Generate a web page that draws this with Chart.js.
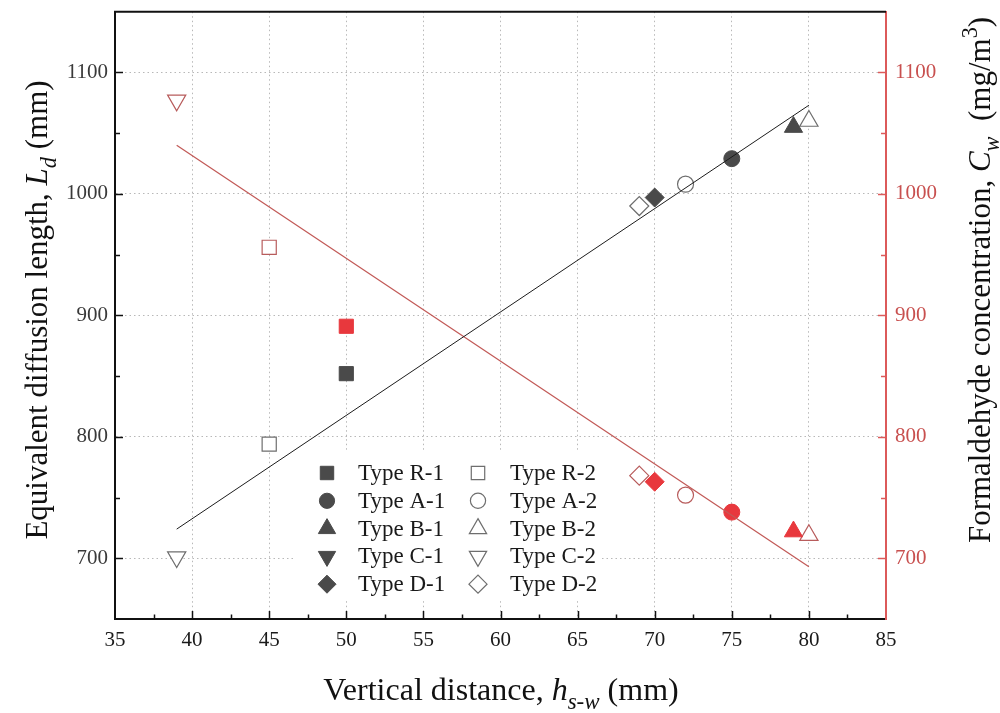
<!DOCTYPE html>
<html>
<head>
<meta charset="utf-8">
<script src="https://cdn.jsdelivr.net/npm/chart.js@4/dist/chart.umd.min.js"></script>
<style>
  html, body { margin: 0; padding: 0; background: #ffffff; }
  canvas { display: block; }
</style>
</head>
<body>
<canvas id="chart" width="1000" height="713"></canvas>
<script>
// Specimen types (filled = "-1", open = "-2")
const typeNames = ['Type R-1', 'Type R-2', 'Type A-1', 'Type A-2', 'Type B-1',
                   'Type B-2', 'Type C-1', 'Type C-2', 'Type D-1', 'Type D-2'];
// Vertical distance h_s-w (mm)
const hsw = [50, 45, 75, 72, 79, 80, null, 39, 70, 69];
// Equivalent diffusion length L_d (mm)
const Ld = [852, 794, 1029, 1008, 1055, 1060, null, 701, 997, 990];
// Formaldehyde concentration C_w (mg/m3)
const Cw = [891, 956, 738, 752, 722, 719, null, 1077, 763, 768];
// Linear fit lines
const fitH = [39, 80];
const fitLd = [724, 1073];
const fitCw = [1040, 693];
// Axis ranges / ticks
const xRange = [35, 85];
const yRange = [650, 1150];
const xMajorTicks = [35, 40, 45, 50, 55, 60, 65, 70, 75, 80, 85];
const yMajorTicks = [700, 800, 900, 1000, 1100];

const SERIF = "'Liberation Serif', 'Times New Roman', serif";
const RED_AXIS = '#dc5a5a';
const RED_TEXT = '#c8504f';
const GRID = '#b8b8b8';

// marker shape for each type letter
const shapeFor = (name) => {
  const t = name.charAt(5);
  if (t === 'R') return { style: 'rect', rotation: 0, radius: 10 };
  if (t === 'A') return { style: 'circle', rotation: 0, radius: 8 };
  if (t === 'B') return { style: 'triangle', rotation: 0, radius: 10.5 };
  if (t === 'C') return { style: 'triangle', rotation: 180, radius: 10.5 };
  return { style: 'rectRot', rotation: 0, radius: 9.5 };
};
const isOpen = (name) => name.endsWith('-2');

const datasets = [
  { label: 'fit Ld', yAxisID: 'y', showLine: true, order: 0,
    data: fitH.map((h, i) => ({ x: h, y: fitLd[i] })),
    borderColor: '#1c1c1c', borderWidth: 1, pointRadius: 0 },
  { label: 'fit Cw', yAxisID: 'y2', showLine: true, order: 0,
    data: fitH.map((h, i) => ({ x: h, y: fitCw[i] })),
    borderColor: '#c25a57', borderWidth: 1.2, pointRadius: 0 }
];

typeNames.forEach((name, i) => {
  if (hsw[i] === null) return;
  const s = shapeFor(name);
  const open = isOpen(name);
  datasets.push({
    label: name + ' (Ld)', yAxisID: 'y', order: 1,
    data: [{ x: hsw[i], y: Ld[i] }],
    pointStyle: s.style, rotation: s.rotation, pointRadius: s.radius, pointHoverRadius: s.radius,
    backgroundColor: open ? '#ffffff' : '#4a4a4a',
    borderColor: open ? '#6e6e6e' : '#4a4a4a',
    borderWidth: open ? 1.2 : 1
  });
  datasets.push({
    label: name + ' (Cw)', yAxisID: 'y2', order: 1,
    data: [{ x: hsw[i], y: Cw[i] }],
    pointStyle: s.style, rotation: s.rotation, pointRadius: s.radius, pointHoverRadius: s.radius,
    backgroundColor: open ? '#ffffff' : '#e8383d',
    borderColor: open ? '#b85c5c' : '#e8383d',
    borderWidth: open ? 1.2 : 1
  });
});

// draws a run of text pieces (plain / italic / sub / sup) centred at the origin
function drawRich(ctx, parts, size) {
  const fontOf = (p) => (p.italic ? 'italic ' : '') + ((p.sub || p.sup) ? size * 0.72 : size) + 'px ' + SERIF;
  let total = 0;
  parts.forEach(p => { ctx.font = fontOf(p); total += ctx.measureText(p.t).width; });
  let x = -total / 2;
  ctx.textBaseline = 'alphabetic';
  ctx.textAlign = 'left';
  parts.forEach(p => {
    ctx.font = fontOf(p);
    const dy = p.sub ? size * 0.28 : (p.sup ? -size * 0.42 : 0);
    ctx.fillText(p.t, x, size * 0.33 + dy);
    x += ctx.measureText(p.t).width;
  });
}

const framePlugin = {
  id: 'frame',
  beforeDatasetsDraw(chart) {
    // white legend panel hides the grid behind it
    const ctx = chart.ctx;
    ctx.save();
    ctx.fillStyle = '#ffffff';
    ctx.fillRect(296, 452, 304, 148);
    ctx.restore();
  },
  afterDraw(chart) {
    const ctx = chart.ctx;
    const area = chart.chartArea;
    const xs = chart.scales.x, ys = chart.scales.y, y2 = chart.scales.y2;
    ctx.save();

    // top frame line
    ctx.strokeStyle = '#111111';
    ctx.lineWidth = 2;
    ctx.beginPath();
    ctx.moveTo(area.left - 1, area.top);
    ctx.lineTo(area.right, area.top);
    ctx.stroke();

    // inward tick marks
    ctx.lineWidth = 1.5;
    ctx.strokeStyle = '#111111';
    for (let v = xRange[0] + 2.5; v < xRange[1]; v += 2.5) {
      const px = Math.round(xs.getPixelForValue(v)) + 0.5;
      const len = (v % 5 === 0) ? 8 : 4.5;
      ctx.beginPath();
      ctx.moveTo(px, area.bottom);
      ctx.lineTo(px, area.bottom - len);
      ctx.stroke();
    }
    for (let v = yRange[0] + 50; v < yRange[1]; v += 50) {
      const py = Math.round(ys.getPixelForValue(v)) + 0.5;
      const len = (v % 100 === 0) ? 8 : 5;
      ctx.strokeStyle = '#111111';
      ctx.beginPath();
      ctx.moveTo(area.left, py);
      ctx.lineTo(area.left + len, py);
      ctx.stroke();
      const py2 = Math.round(y2.getPixelForValue(v)) + 0.5;
      ctx.strokeStyle = RED_AXIS;
      ctx.beginPath();
      ctx.moveTo(area.right, py2);
      ctx.lineTo(area.right - len, py2);
      ctx.stroke();
    }

    // legend: two columns, five rows
    const colMarkerX = [327, 478];
    const colTextX = [358, 510];
    const rowY0 = 473, rowStep = 27.8;
    ctx.font = '23px ' + SERIF;
    ctx.textBaseline = 'middle';
    ctx.textAlign = 'left';
    typeNames.forEach((name, i) => {
      const col = i % 2, row = Math.floor(i / 2);
      const cy = rowY0 + row * rowStep;
      const s = shapeFor(name);
      const open = isOpen(name);
      ctx.save();
      ctx.fillStyle = open ? '#ffffff' : '#4a4a4a';
      ctx.strokeStyle = open ? '#6e6e6e' : '#4a4a4a';
      ctx.lineWidth = open ? 1.2 : 1;
      Chart.helpers.drawPoint(ctx, { pointStyle: s.style, rotation: s.rotation, radius: s.radius * 0.95, borderWidth: ctx.lineWidth }, colMarkerX[col], cy);
      ctx.restore();
      ctx.fillStyle = '#1a1a1a';
      ctx.fillText(name, colTextX[col], cy + 1);
    });

    // axis titles
    ctx.fillStyle = '#111111';
    ctx.save();
    ctx.translate(37, 310);
    ctx.rotate(-Math.PI / 2);
    drawRich(ctx, [
      { t: 'Equivalent diffusion length, ' },
      { t: 'L', italic: true },
      { t: 'd', italic: true, sub: true },
      { t: ' (mm)' }
    ], 31);
    ctx.restore();

    ctx.save();
    ctx.translate(980, 280);
    ctx.rotate(-Math.PI / 2);
    drawRich(ctx, [
      { t: 'Formaldehyde concentration, ' },
      { t: 'C', italic: true },
      { t: 'w', italic: true, sub: true },
      { t: '  (mg/m' },
      { t: '3', sup: true },
      { t: ')' }
    ], 31);
    ctx.restore();

    ctx.save();
    ctx.translate(501, 689);
    drawRich(ctx, [
      { t: 'Vertical distance, ' },
      { t: 'h', italic: true },
      { t: 's-w', italic: true, sub: true },
      { t: ' (mm)' }
    ], 32);
    ctx.restore();

    ctx.restore();
  }
};

const gridColorX = (c) => {
  const v = c.tick ? c.tick.value : null;
  return (v !== null && v % 5 === 0 && v > xRange[0] && v < xRange[1]) ? GRID : 'rgba(0,0,0,0)';
};
const gridColorY = (c) => {
  const v = c.tick ? c.tick.value : null;
  return (v !== null && yMajorTicks.includes(v)) ? GRID : 'rgba(0,0,0,0)';
};
const plainLabel = (v) => String(v);
const noPadding = (s) => { s.paddingTop = 0; s.paddingBottom = 0; s.paddingLeft = 0; s.paddingRight = 0; };

new Chart(document.getElementById('chart'), {
  type: 'scatter',
  data: { datasets },
  options: {
    responsive: false,
    animation: false,
    devicePixelRatio: 1,
    layout: { padding: { top: 11, left: 0, right: 0, bottom: 0 } },
    plugins: { legend: { display: false }, tooltip: { enabled: false } },
    scales: {
      x: {
        type: 'linear', position: 'bottom', min: xRange[0], max: xRange[1],
        afterBuildTicks: (s) => { s.ticks = xMajorTicks.map(v => ({ value: v })); },
        ticks: { font: { family: SERIF, size: 21 }, color: '#1a1a1a', padding: 9, maxRotation: 0, autoSkip: false, callback: plainLabel },
        grid: { drawTicks: false, color: gridColorX, lineWidth: 1 },
        border: { color: '#111111', width: 2, dash: [1.5, 3] },
        afterFit: (s) => { s.height = 94; noPadding(s); }
      },
      y: {
        type: 'linear', position: 'left', min: yRange[0], max: yRange[1],
        afterBuildTicks: (s) => { s.ticks = yMajorTicks.map(v => ({ value: v })); },
        ticks: { font: { family: SERIF, size: 21 }, color: '#3a3a3a', padding: 7, callback: plainLabel },
        grid: { drawTicks: false, color: gridColorY, lineWidth: 1 },
        border: { color: '#111111', width: 2, dash: [1.5, 3] },
        afterFit: (s) => { s.width = 115; noPadding(s); }
      },
      y2: {
        type: 'linear', position: 'right', min: yRange[0], max: yRange[1],
        afterBuildTicks: (s) => { s.ticks = yMajorTicks.map(v => ({ value: v })); },
        ticks: { font: { family: SERIF, size: 21 }, color: RED_TEXT, padding: 9, callback: plainLabel },
        grid: { drawTicks: false, drawOnChartArea: false },
        border: { color: RED_AXIS, width: 2 },
        afterFit: (s) => { s.width = 114; noPadding(s); }
      }
    }
  },
  plugins: [framePlugin]
});
</script>
</body>
</html>
